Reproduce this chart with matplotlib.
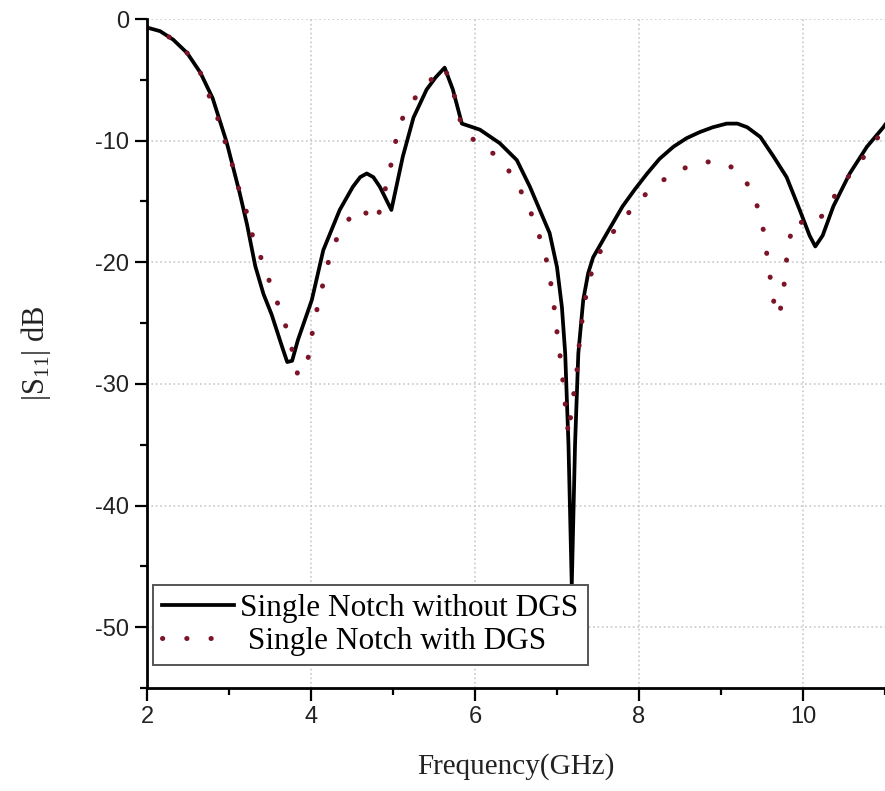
import numpy as np
import matplotlib
matplotlib.use('Agg')
import matplotlib.pyplot as plt
from matplotlib.ticker import MultipleLocator

plt.rcParams['axes.unicode_minus'] = False

# |S11| without DGS (solid)
freq_a = [2.0, 2.16, 2.32, 2.49, 2.65, 2.8, 2.97, 3.13, 3.22, 3.32, 3.42, 3.52, 3.65,
          3.71, 3.77, 3.84, 4.01, 4.15, 4.35, 4.51, 4.6, 4.68, 4.76, 4.84, 4.98,
          5.12, 5.25, 5.41, 5.52, 5.63, 5.73, 5.84, 6.06, 6.3, 6.51, 6.67, 6.79,
          6.91, 7.0, 7.06, 7.1, 7.14, 7.18, 7.22, 7.26, 7.32, 7.38, 7.44, 7.61,
          7.8, 7.95, 8.1, 8.25, 8.42, 8.58, 8.74, 8.9, 9.07, 9.2, 9.32, 9.48, 9.64,
          9.8, 9.96, 10.08, 10.15, 10.24, 10.37, 10.57, 10.78, 10.98, 11.0]
s11_a = [-0.7, -1.0, -1.7, -2.8, -4.4, -6.5, -10.1, -14.3, -16.9, -20.3, -22.6, -24.3, -27.0,
         -28.2, -28.1, -26.4, -23.1, -19.0, -15.7, -13.8, -13.0, -12.7, -13.0, -13.8, -15.7,
         -11.3, -8.1, -5.8, -4.8, -4.0, -5.8, -8.6, -9.1, -10.2, -11.6, -13.8, -15.7,
         -17.6, -20.4, -23.7, -27.5, -35.0, -46.6, -35.0, -27.5, -23.1, -20.9, -19.6, -17.6,
         -15.4, -14.0, -12.7, -11.5, -10.5, -9.8, -9.3, -8.9, -8.6, -8.6, -8.9, -9.7, -11.3,
         -13.0, -15.7, -17.8, -18.7, -17.8, -15.4, -12.7, -10.5, -8.9, -8.7]

# |S11| with DGS (dotted)
freq_b = [2.0, 2.16, 2.32, 2.49, 2.65, 2.87, 3.05, 3.13, 3.22, 3.29, 3.4, 3.5, 3.6,
          3.7, 3.77, 3.84, 3.95, 4.0, 4.05, 4.12, 4.18, 4.27, 4.39, 4.59, 4.8, 4.94,
          5.0, 5.06, 5.17, 5.33, 5.57, 5.63, 5.73, 5.84, 6.02, 6.28, 6.47, 6.61, 6.73,
          6.82, 6.9, 6.94, 6.98, 7.01, 7.05, 7.08, 7.11, 7.14, 7.18, 7.23, 7.26, 7.28,
          7.37, 7.46, 7.59, 7.77, 7.95, 8.17, 8.42, 8.7, 8.99, 9.22, 9.39, 9.48, 9.54,
          9.57, 9.62, 9.66, 9.71, 9.76, 9.79, 9.82, 9.9, 10.09, 10.3, 10.41, 10.78, 11.0]
s11_b = [-0.7, -1.0, -1.7, -2.8, -4.4, -8.3, -12.2, -14.2, -16.0, -17.9, -19.8, -21.7, -23.5,
         -25.4, -27.2, -29.3, -28.5, -26.4, -24.5, -22.6, -20.7, -18.7, -17.0, -15.5, -16.7, -13.1,
         -11.2, -9.1, -7.3, -6.0, -4.2, -4.0, -5.8, -8.9, -10.2, -11.3, -13.0, -14.8, -16.7,
         -18.6, -20.5, -22.5, -24.4, -26.4, -28.3, -30.3, -32.3, -34.2, -31.9, -29.7, -27.8, -25.9,
         -22.0, -20.0, -18.3, -16.8, -15.3, -13.8, -12.7, -11.8, -11.7, -12.5, -14.3, -16.2, -18.1,
         -20.1, -22.0, -24.1, -24.4, -22.5, -20.4, -18.5, -16.5, -17.0, -15.8, -14.2, -11.0, -8.9]

serif = ['Liberation Serif', 'DejaVu Serif']
sans = ['Liberation Sans', 'DejaVu Sans']

fig = plt.figure(figsize=(8.85, 7.91), dpi=100)
ax = fig.add_axes([147/885, 1 - 688/791, 738/885, 669/791])

ax.plot(freq_a, s11_a, color='black', lw=2.7, label='Single Notch without DGS',
        solid_joinstyle='round')
ax.plot(freq_b, s11_b, color='#7a1426', lw=3.6, linestyle=(0, (0.05, 4.8)),
        dash_capstyle='round', label=' Single Notch with DGS')

ax.set_xlim(2, 11)
ax.set_ylim(-55, 0)
ax.xaxis.set_major_locator(MultipleLocator(2))
ax.xaxis.set_minor_locator(MultipleLocator(1))
ax.yaxis.set_major_locator(MultipleLocator(10))
ax.yaxis.set_minor_locator(MultipleLocator(5))

ax.grid(True, which='major', color='#c8c8c8', linestyle=':', linewidth=1.2)
ax.set_axisbelow(True)

for s in ['top', 'right']:
    ax.spines[s].set_visible(False)
for s in ['left', 'bottom']:
    ax.spines[s].set_linewidth(2.0)

ax.tick_params(which='major', direction='out', length=9, width=1.6, labelsize=17, pad=4)
ax.tick_params(which='minor', direction='out', length=5, width=1.6)
for lab in ax.get_xticklabels() + ax.get_yticklabels():
    lab.set_family(sans)
    lab.set_color('#222222')

ax.set_xlabel('Frequency(GHz)', family=serif, fontsize=21, labelpad=18, color='#222222')
ax.set_ylabel('|S$_{\\mathregular{11}}$| dB', family=serif, fontsize=22, labelpad=30, color='#222222')

leg = ax.legend(loc='lower left', bbox_to_anchor=(0.008, 0.034), borderaxespad=0,
                prop={'family': serif, 'size': 22.5}, handlelength=2.3, handletextpad=0.2,
                labelspacing=0.12, borderpad=0.3, fancybox=False, framealpha=1)
leg.get_frame().set_edgecolor('#555555')
leg.get_frame().set_linewidth(1.4)

fig.savefig('out.png', dpi=100)
